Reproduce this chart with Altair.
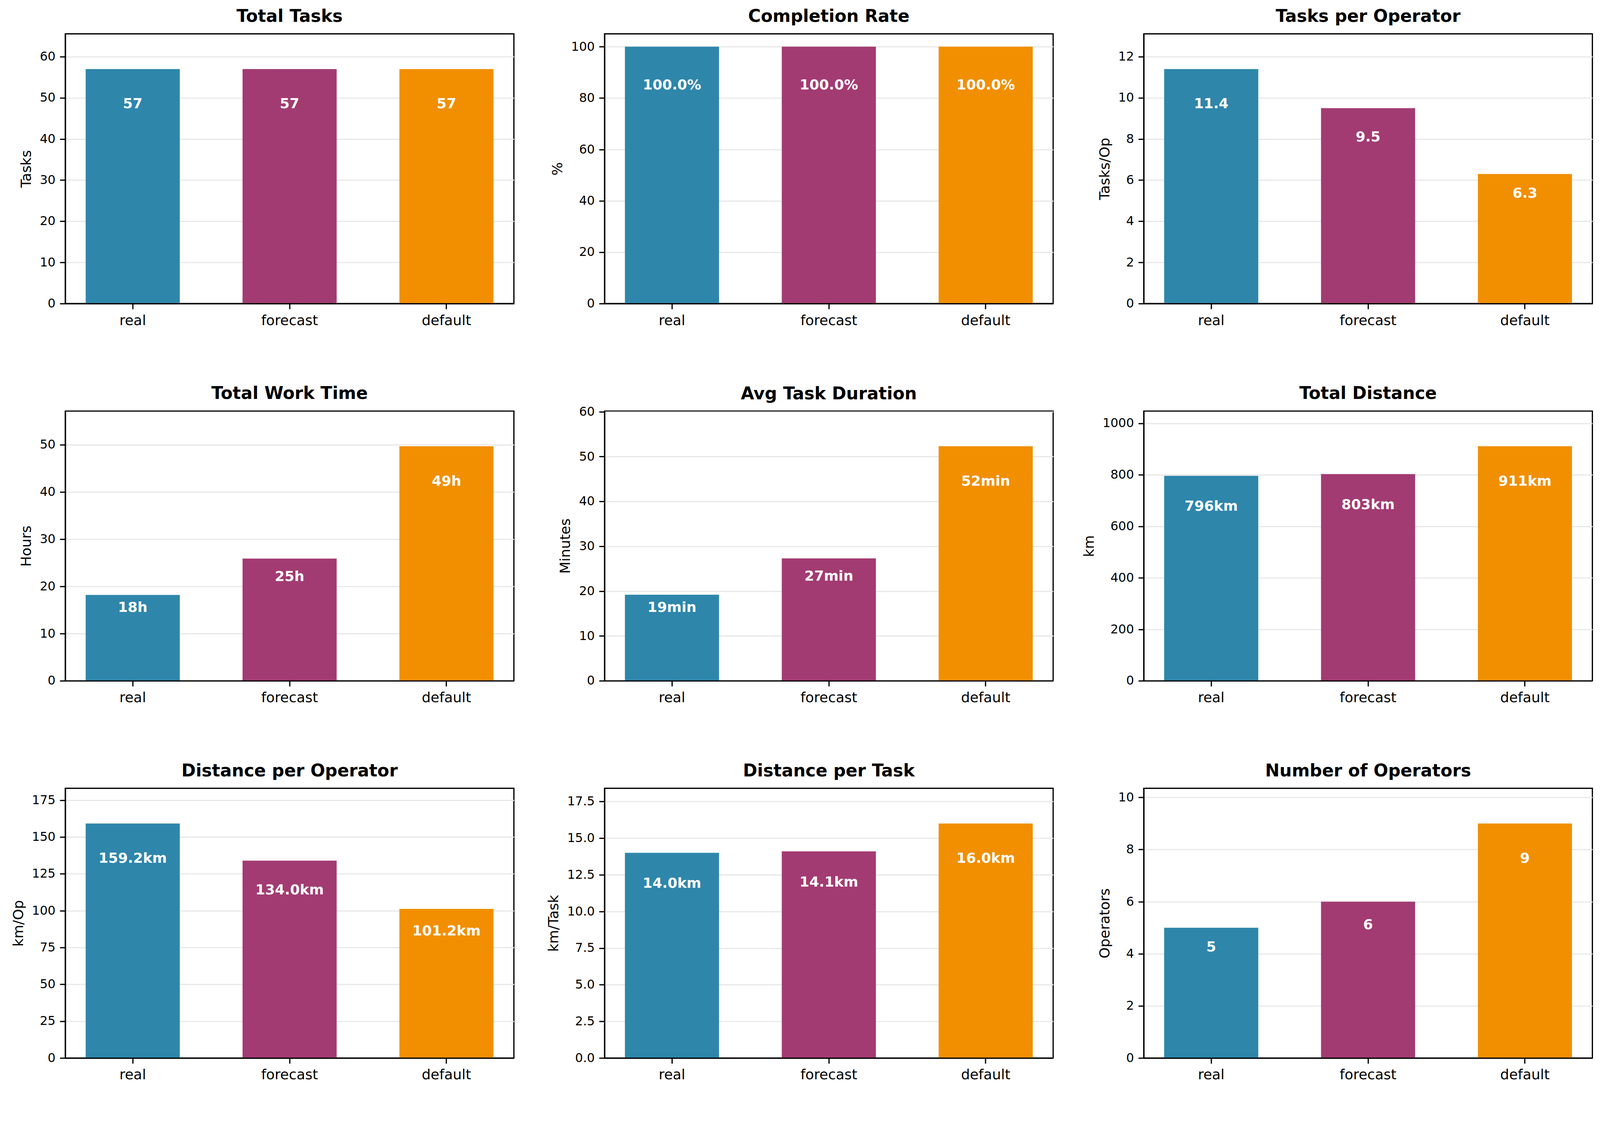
import altair as alt
import pandas as pd

categories = ["real", "forecast", "default"]
colors = ["#2E86AB", "#A23B72", "#F18F01"]

total_tasks = [57, 57, 57]
total_tasks_labels = ["57", "57", "57"]

completion_rate = [100.0, 100.0, 100.0]
completion_labels = ["100.0%", "100.0%", "100.0%"]

tasks_per_op = [11.4, 9.5, 6.3]
tasks_per_op_labels = ["11.4", "9.5", "6.3"]

work_hours = [18.2, 25.9, 49.7]
work_hours_labels = ["18h", "25h", "49h"]

avg_duration = [19.2, 27.3, 52.3]
avg_duration_labels = ["19min", "27min", "52min"]

total_distance = [796, 803, 911]
total_distance_labels = ["796km", "803km", "911km"]

dist_per_op = [159.2, 134.0, 101.2]
dist_per_op_labels = ["159.2km", "134.0km", "101.2km"]

dist_per_task = [14.0, 14.1, 16.0]
dist_per_task_labels = ["14.0km", "14.1km", "16.0km"]

operators = [5, 6, 9]
operators_labels = ["5", "6", "9"]

FONT = "DejaVu Sans"
PW, PH = 1198, 720
TITLE_OFFSET = -14


def panel(title, vals, labels, ytitle, ymax, ticks, fmt="d", extra_offset=0):
    df = pd.DataFrame({"scenario": categories, "value": vals, "label": labels})
    df["pos"] = df["value"] * 0.85
    x = alt.X(
        "scenario:N",
        sort=categories,
        scale=alt.Scale(paddingInner=0.4, paddingOuter=0.13),
        axis=alt.Axis(
            title=None, labelAngle=0, labelFontSize=37.5, labelPadding=12,
            tickSize=14.5, tickWidth=3.3, tickColor="black",
            domain=True, domainColor="black", domainWidth=3.3,
            grid=False, zindex=1, labelColor="black", labelFont=FONT,
        ),
    )
    yaxis = alt.Axis(
        title=ytitle, values=ticks, format=fmt, labelFontSize=33,
        labelPadding=12, tickSize=14.5, tickWidth=3.3, tickColor="black",
        domain=True, domainColor="black", domainWidth=3.3,
        grid=True, gridColor="#e7e7e7", gridWidth=3,
        titleFontSize=37.5, titleFontWeight="normal", titlePadding=16,
        titleColor="black", labelColor="black", labelFont=FONT, titleFont=FONT,
        zindex=0,
    )
    yscale = alt.Scale(domain=[0, ymax], nice=False, zero=True)
    base = alt.Chart(df)
    bars = base.mark_bar().encode(
        x=x,
        y=alt.Y("value:Q", scale=yscale, axis=yaxis),
        color=alt.Color("scenario:N", scale=alt.Scale(domain=categories, range=colors), legend=None),
    )
    text = base.mark_text(
        color="white", fontWeight="bold", fontSize=37.5, baseline="middle", font=FONT
    ).encode(
        x=x,
        y=alt.Y("pos:Q", scale=yscale, axis=yaxis),
        text="label:N",
    )
    return alt.layer(bars, text).properties(
        width=PW, height=PH,
        title=alt.TitleParams(
            title, fontSize=46, fontWeight="bold", font=FONT, anchor="middle",
            baseline="alphabetic", offset=TITLE_OFFSET + extra_offset, color="black",
        ),
    )


panels = [
    panel("Total Tasks", total_tasks, total_tasks_labels, "Tasks", 57 * 1.15, [0, 10, 20, 30, 40, 50, 60]),
    panel("Completion Rate", completion_rate, completion_labels, "%", 105, [0, 20, 40, 60, 80, 100]),
    panel("Tasks per Operator", tasks_per_op, tasks_per_op_labels, "Tasks/Op", 11.4 * 1.15, [0, 2, 4, 6, 8, 10, 12]),
    panel("Total Work Time", work_hours, work_hours_labels, "Hours", 49.7 * 1.15, [0, 10, 20, 30, 40, 50]),
    panel("Avg Task Duration", avg_duration, avg_duration_labels, "Minutes", 52.3 * 1.15, [0, 10, 20, 30, 40, 50, 60], extra_offset=-15),
    panel("Total Distance", total_distance, total_distance_labels, "km", 911 * 1.15, [0, 200, 400, 600, 800, 1000]),
    panel("Distance per Operator", dist_per_op, dist_per_op_labels, "km/Op", 159.2 * 1.15, [0, 25, 50, 75, 100, 125, 150, 175]),
    panel("Distance per Task", dist_per_task, dist_per_task_labels, "km/Task", 16.0 * 1.15, [0, 2.5, 5, 7.5, 10, 12.5, 15, 17.5], ".1f"),
    panel("Number of Operators", operators, operators_labels, "Operators", 9 * 1.15, [0, 2, 4, 6, 8, 10]),
]

chart = alt.concat(
    *panels, columns=3, spacing={"row": 287, "column": 242}, bounds="flush"
).properties(
    padding={"left": 20, "top": -50, "right": 10, "bottom": 10},
    background="white",
).configure_view(
    stroke="black", strokeWidth=3.3
).configure_axis(
    labelFont=FONT, titleFont=FONT
)

chart.save("out.html", embed_options={"renderer": "svg", "actions": False})
